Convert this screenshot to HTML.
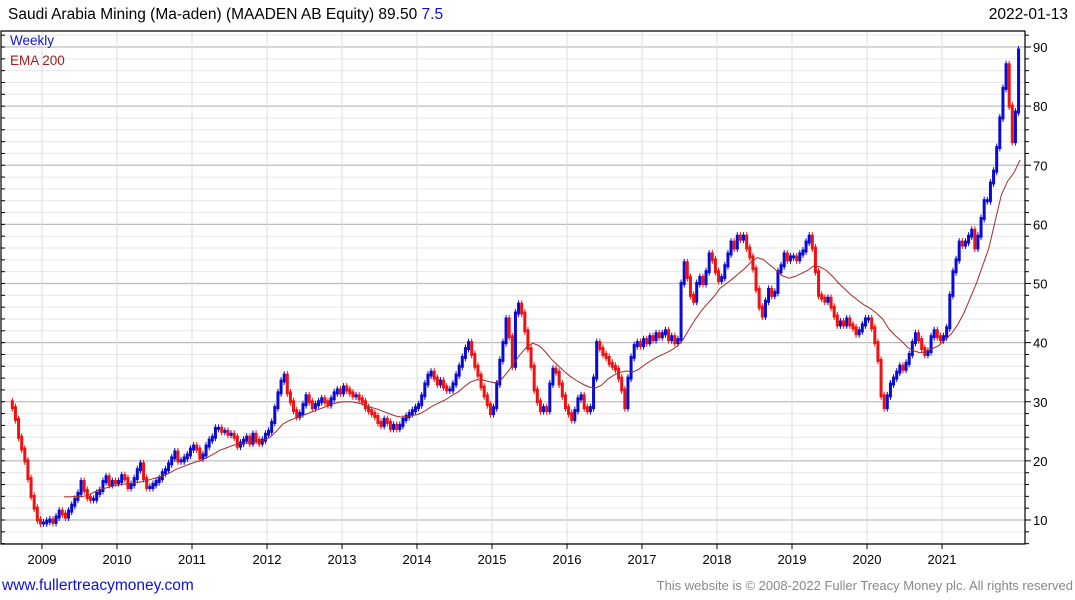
<!DOCTYPE html>
<html><head><meta charset="utf-8"><style>
body{margin:0;background:#fff;width:1075px;height:600px;overflow:hidden;font-family:"Liberation Sans",sans-serif}
#c{position:absolute;left:0;top:0}
</style></head><body>
<svg id="c" width="1075" height="600">
<g id="grid"></g>
<g id="bars"></g>
<g id="ema"></g>
<g id="axes"></g>
<text x="8" y="19" font-size="15.5" fill="#000">Saudi Arabia Mining (Ma-aden) (MAADEN AB Equity) 89.50 <tspan fill="#1010d0">7.5</tspan></text>
<text x="1068" y="19" font-size="15.5" fill="#000" text-anchor="end">2022-01-13</text>
<text x="10" y="45" font-size="13.5" fill="#1010d0">Weekly</text>
<text x="10" y="65" font-size="13.5" fill="#a02020">EMA 200</text>
<text x="2" y="590" font-size="15.5" fill="#1010d0">www.fullertreacymoney.com</text>
<text x="1073" y="590" font-size="13" fill="#888" text-anchor="end">This website is © 2008-2022 Fuller Treacy Money plc. All rights reserved</text>
</svg>
<script>
// semi-monthly closes from Aug 2008
const closes=[29,27,24,22,20,17,14,12,10,9.5,
9.5,9.8,10,9.6,10.5,11.5,11,10.5,11.5,12.5,13.5,14.5,16.5,15,13.8,13.5,13.5,14.5,15,16.5,17.3,16,16.5,16.3,
16.5,17.5,17,15.5,16,17,18.5,19.5,17,15.5,15.5,16,16.5,17,18,18.5,19.5,20.5,21.5,20,20,20.5,21,22,
22.5,22,20.5,21,22.5,23.5,24,25.5,25.5,25,25,24.5,24.5,24,22.5,23,23.5,24,23,24.5,23.5,23,23.5,24.5,
25,26.5,29,31.5,33.5,34.5,31.5,30,28.5,27.5,28,29.5,31,30,29,29.5,30,30.5,30,29.5,30.5,31.5,32,31.5,
32.5,32,31.5,31,31,30.5,30,29,28.5,28,27.5,26.5,26,27,26.5,25.5,26,25.5,26,27,27.5,28,28.5,29,
29.5,31,33,34.5,35,34,33,33.5,32.5,32,32,33,34.5,36,37.5,39,40,38,36,34.5,32.5,31,29.5,28,
29,33,37,40,44,41,36,45,46.5,45,42,39,36,32,30,28.5,29,28.5,33,35.5,35,33,31,29,
28,27,28.5,30.5,31,29,28.5,29,34,40,39,38,37.5,36.5,36,35.5,34,32,29,34,37.5,39.5,40,39.5,
40.5,40,41,40.5,41.5,41,41.5,42,40.5,41,40,40.5,50,53.5,51,48,47,50,51,50,52,55,54,52,
50.5,51,53,55,57,56,58,57.5,58,56,54.5,52.5,49,46,44.5,47,49,48,48.5,52,53,55,54,54.5,
54.5,54,55,55.5,57,58,56,52,48,47.5,47,47.5,46,44.5,43,43.5,43,44,43,42.5,41.5,42,43,44,
44,42.5,40,37,31,29,31,33,34,35,36,35.5,36.5,38,40,41.5,40.5,39,38,38.5,41,42,41,40.5,
41,42.5,48,52,54,57,56.5,57,58,59,56,58,61,64,64,67,69,73,78,83,87,80,74,79,
89.5];
// monthly EMA 200 from Apr 2009
const ema=[13.9,13.9,14,14,14.2,14.8,15.2,15.5,15.8,
16,16.1,16.2,16.4,16.6,16.9,17.2,17.5,18,18.6,19,19.4,
19.8,20.1,20.6,21.2,21.8,22.2,22.6,22.9,23,23.1,23.2,23.5,
24,25,26.2,26.8,27.2,27.6,28,28.4,28.8,29.2,29.6,29.9,
30,30,29.8,29.5,29.1,28.8,28.4,28,27.6,27.4,27.5,27.7,
28,28.6,29.3,29.8,30.3,31,31.6,32.5,33.3,33.7,33.7,33.4,
33.2,33.8,35,36.5,38,39.2,39.9,39.5,38.5,37.2,36.2,35.2,
34.3,33.6,33,32.5,32.3,32.8,33.8,34.5,35,35.2,35,35.5,
36.3,37,37.6,38.1,38.6,39.3,40.4,42.2,43.9,45.4,46.6,47.8,
49.2,50,50.8,51.7,52.6,53.7,54.4,54,53.1,52.2,51.3,50.9,
51.2,51.7,52.2,53,52.8,52.2,51.2,50,49,48,47.2,46.4,
45.8,45,44,42.3,41.2,40.3,39.2,38.6,38.3,38.5,39,39.5,
40.5,41.5,43,45,47.5,50,53,56,60.5,65,67.3,68.7,70.9];
const yTicks=[10,20,30,40,50,60,70,80,90];
const years=[2009,2010,2011,2012,2013,2014,2015,2016,2017,2018,2019,2020,2021];

const NS="http://www.w3.org/2000/svg";
const L=1,R=1025,T=31,B=544;
const y=v=>520-(v-10)*5.9125;
const xT=t=>42+(t-2009)*75;
function mk(tag,at,parent){const e=document.createElementNS(NS,tag);for(const k in at)e.setAttribute(k,at[k]);parent.appendChild(e);return e;}
const grid=document.getElementById('grid'),bars=document.getElementById('bars'),emaG=document.getElementById('ema'),axes=document.getElementById('axes');
for(let v=6;v<=92;v+=2){const yy=y(v);if(yy<T||yy>B)continue;
 const l=mk('line',{x1:L,x2:R,y1:yy,y2:yy,stroke:v%10===0?'#bdbdbd':'#e6e6e6','stroke-width':v%10===0?1.3:1},grid);
 
 const t=mk('line',{x1:R,x2:R+(v%10===0?6:4),y1:yy,y2:yy,stroke:'#000'},axes);
 
 const t2=mk('line',{x1:L,x2:L+4,y1:yy,y2:yy,stroke:'#000'},axes);
 }
yTicks.forEach(v=>{const t=mk('text',{x:1033,y:y(v)+5,'font-size':13,fill:'#000'},axes);t.textContent=v;
 });
years.forEach(yr=>{const xx=xT(yr);
 const l=mk('line',{x1:xx,x2:xx,y1:T,y2:B,stroke:'#dcdcdc'},grid);
 
 const tk=mk('line',{x1:xx,x2:xx,y1:B,y2:B+5,stroke:'#000'},axes);
 
 const t=mk('text',{x:xx,y:564,'font-size':13,'text-anchor':'middle',fill:'#000'},axes);t.textContent=yr;
 });
const fr=mk('path',{d:`M${L},${T}H${R}V${B}H${L}Z`,fill:'none',stroke:'#000','stroke-width':1.2},axes);

const t0=2008+7/12, dt=1/24;
closes.forEach((c,i)=>{const p=i?closes[i-1]:c+1;const xx=xT(t0+(i+0.5)*dt);
 const up=c>=p;const hi=Math.max(c,p),lo=Math.min(c,p);const col=up?'#0a0ad0':'#f01010';
 const w=mk('line',{x1:xx,x2:xx,y1:y(hi)-4,y2:y(lo)+4,stroke:col,'stroke-width':1},bars);
 
 const r=mk('rect',{x:xx-1.5,y:y(hi)-1.5,width:3,height:y(lo)-y(hi)+3,fill:col},bars);
 });
const pts=ema.map((v,i)=>xT(2009+3/12+(i+0.5)/12).toFixed(1)+','+y(v).toFixed(1)).join(' ');
const pl=mk('polyline',{points:pts,fill:'none',stroke:'#a52a2a','stroke-width':1},emaG);

</script>
</body></html>
